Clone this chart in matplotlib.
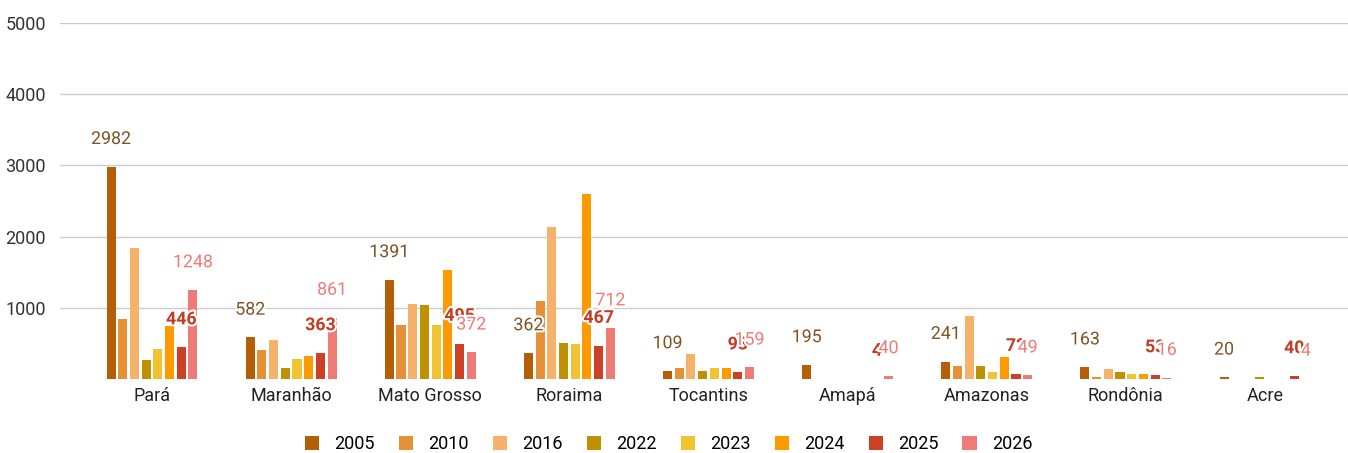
import matplotlib
matplotlib.use('Agg')
import matplotlib.pyplot as plt
import matplotlib.patheffects as pe
import numpy as np

states = ['Pará', 'Maranhão', 'Mato Grosso', 'Roraima', 'Tocantins',
          'Amapá', 'Amazonas', 'Rondônia', 'Acre']
years = ['2005', '2010', '2016', '2022', '2023', '2024', '2025', '2026']

v2005 = [2982, 582, 1391, 362, 109, 195, 241, 163, 20]
v2010 = [840, 405, 758, 1095, 155, 0, 178, 30, 0]
v2016 = [1840, 552, 1053, 2130, 347, 0, 880, 140, 0]
v2022 = [267, 155, 1035, 510, 110, 0, 173, 94, 30]
v2023 = [421, 281, 750, 487, 155, 0, 94, 66, 0]
v2024 = [745, 323, 1530, 2594, 145, 0, 300, 66, 0]
v2025 = [446, 363, 495, 467, 93, 4, 72, 53, 40]
v2026 = [1248, 861, 372, 712, 159, 40, 49, 16, 4]

colors = ['#b45f06', '#e69138', '#f6b26b', '#bf9000',
          '#f1c232', '#ff9900', '#cc4125', '#ee7b76']
yticks = [1000, 2000, 3000, 4000, 5000]

# series that carry data labels: index -> (colour, weight)
labelled = {0: ('#7d5325', 'normal'), 6: ('#c23b22', 'bold'),
            7: ('#ee7b76', 'normal')}

plt.rcParams['font.family'] = ['Roboto', 'DejaVu Sans']


def plot_chart(outfile):
    series = [v2005, v2010, v2016, v2022, v2023, v2024, v2025, v2026]
    fig = plt.figure(figsize=(13.48, 4.53), dpi=100)
    ax = fig.add_axes([60 / 1348, 74.2 / 453, 1288 / 1348, 355.5 / 453])

    x = np.arange(len(states))
    step = 0.0841
    width = 0.065
    for i, (vals, col) in enumerate(zip(series, colors)):
        xs = x + (i - 3.5) * step
        ax.bar(xs, vals, width=width, color=col, label=years[i],
               linewidth=0, zorder=2)

    # labels drawn after bars, 2026 last so it sits on top
    for i in [0, 6, 7]:
        col, weight = labelled[i]
        xs = x + (i - 3.5) * step
        for xi, v in zip(xs, series[i]):
            ax.annotate(str(v), (xi, v), xytext=(0, 20), textcoords='offset points',
                        ha='center', va='center', fontsize=12.8, color=col,
                        fontweight=weight, zorder=5,
                        path_effects=[pe.withStroke(linewidth=3, foreground='white')])

    ax.set_ylim(0, 5000)
    ax.set_xlim(-92 / 139.1, 8 + 83 / 139.1)
    ax.set_yticks(yticks)
    ax.set_yticklabels([str(t) for t in yticks], fontsize=13, color='#333333')
    ax.set_xticks(x)
    ax.set_xticklabels(states, fontsize=13, color='#222222')
    ax.tick_params(axis='both', length=0)
    ax.tick_params(axis='y', pad=10)
    ax.tick_params(axis='x', pad=6)
    ax.grid(axis='y', color='#cccccc', linewidth=1, zorder=0)
    for s in ax.spines.values():
        s.set_visible(False)

    fig.legend(loc='center', bbox_to_anchor=(0.496, 0.02), ncol=8, frameon=False,
               fontsize=13, handlelength=0.78, handleheight=0.8,
               handletextpad=0.85, columnspacing=1.33)

    fig.savefig(outfile, dpi=100)


if __name__ == '__main__':
    plot_chart('out.png')
